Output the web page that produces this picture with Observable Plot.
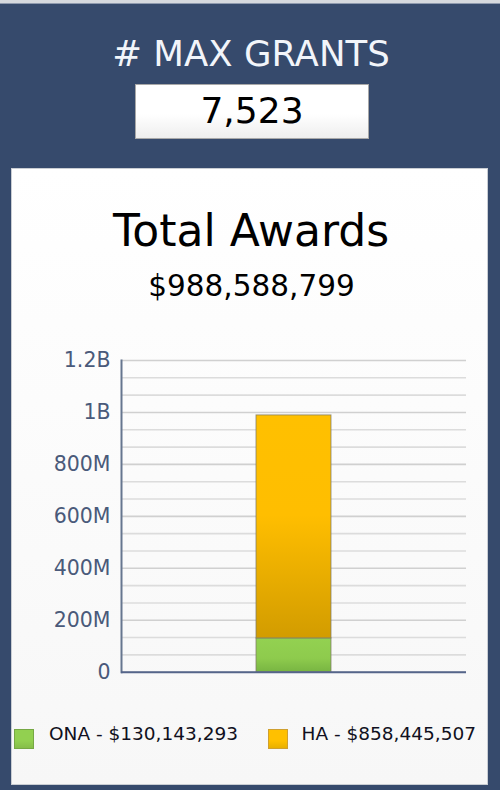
<!DOCTYPE html>
<html>
<head>
<meta charset="utf-8">
<script src="https://cdn.jsdelivr.net/npm/d3@7"></script>
<script src="https://cdn.jsdelivr.net/npm/@observablehq/plot@0.6"></script>
<style>
  html, body { margin: 0; padding: 0; width: 500px; height: 790px; overflow: hidden; }
  body { background: #364a6c; font-family: "DejaVu Sans", Verdana, sans-serif; position: relative; }
  .abs { position: absolute; white-space: nowrap; }
  #topstrip { left: 0; top: 0; width: 500px; height: 3px; background: #d6d9de; }
  #topline { left: 0; top: 3px; width: 500px; height: 1px; background: #8f9aae; }
  #title { left: 0; width: 502px; text-align: center; top: 35.7px; font-size: 35.5px; line-height: 35.5px; color: #f2f5fa; }
  #box { left: 135px; top: 84px; width: 232px; height: 53px; background: linear-gradient(#ffffff 55%, #eeeeee); border: 1px solid #a8a8a8; }
  #count { left: 135px; width: 234px; text-align: center; top: 92.8px; font-size: 36px; line-height: 36px; color: #000; }
  #panel { left: 11px; top: 168px; width: 475px; height: 615px; background: linear-gradient(#ffffff, #f7f7f7); border: 1px solid #c9cdd3; }
  #ctitle { left: 0; width: 502px; text-align: center; top: 208.5px; font-size: 44px; line-height: 44px; color: #000; }
  #ctotal { left: 0; width: 503px; text-align: center; top: 271.7px; font-size: 29.5px; line-height: 29.5px; color: #000; }
  #chart { left: 11px; top: 330px; }
  .sw { width: 18px; height: 18px; }
  .lt { font-size: 18.5px; line-height: 18.5px; color: #101020; top: 725px; }
</style>
</head>
<body>
<script>
// ---- data ----
const headerLabel = "# MAX GRANTS";
const maxGrants = 7523;
const chartTitle = "Total Awards";
const totalAwards = 988588799;
const category = ["Total"];
const series = ["ONA", "HA"];
const values = [130143293, 858445507];
const seriesFill = ["url(#gONA)", "url(#gHA)"];
const swatchColors = ["#92d050", "#ffc000"];
const swatchBorders = ["#76a844", "#cfa030"];
const tickValues = [0, 2e8, 4e8, 6e8, 8e8, 1e9, 1.2e9];
const tickLabels = ["0", "200M", "400M", "600M", "800M", "1B", "1.2B"];
const yMax = 1.2e9;
const gridStep = 2e8 / 3;

const fmt = d3.format(",");
const data = series.map((s, i) => ({cat: category[0], series: s, value: values[i]}));

function el(id, text) {
  const d = document.createElement("div");
  d.className = "abs"; d.id = id;
  if (text != null) d.textContent = text;
  document.body.appendChild(d);
  return d;
}
el("topstrip"); el("topline");
el("title", headerLabel);
el("box");
el("count", fmt(maxGrants));
el("panel");
el("ctitle", chartTitle);
el("ctotal", "$" + fmt(totalAwards));

const gridVals = d3.range(0, yMax + 1, gridStep);

const chart = Plot.plot({
  width: 477,
  height: 360,
  marginLeft: 110,
  marginRight: 22,
  marginTop: 30,
  marginBottom: 18.3,
  style: {background: "transparent", fontFamily: "'DejaVu Sans', Verdana, sans-serif", overflow: "visible"},
  x: {domain: category, padding: 0.6429, round: false, axis: null},
  y: {domain: [0, yMax], axis: null, label: null},
  color: {domain: series, range: seriesFill},
  marks: [
    Plot.ruleY(gridVals, {stroke: d => (Math.round(d / gridStep) % 3 === 0 ? "#d0d0d0" : "#dcdcdc"), strokeWidth: 1.6}),
    Plot.barY(data, Plot.stackY({x: "cat", y: "value", fill: "series", stroke: "#7d7a66", strokeOpacity: 0.75, strokeWidth: 1})),
    Plot.axisY({ticks: tickValues, tickFormat: d => tickLabels[tickValues.indexOf(d)], tickSize: 0, tickPadding: 11, fontSize: 20.5, fill: "#4a5a7a", label: null}),
    Plot.frame({anchor: "left", stroke: "#66768f", strokeWidth: 2}),
    Plot.ruleY([0], {stroke: "#55658a", strokeWidth: 2})
  ]
});

// gradients
const ns = "http://www.w3.org/2000/svg";
const defs = document.createElementNS(ns, "defs");
function grad(id, stops) {
  const g = document.createElementNS(ns, "linearGradient");
  g.setAttribute("id", id);
  g.setAttribute("x1", "0"); g.setAttribute("y1", "0");
  g.setAttribute("x2", "0"); g.setAttribute("y2", "1");
  for (const [o, c] of stops) {
    const s = document.createElementNS(ns, "stop");
    s.setAttribute("offset", o); s.setAttribute("stop-color", c);
    g.appendChild(s);
  }
  defs.appendChild(g);
}
grad("gHA", [[0, "#ffc000"], [0.45, "#ffbe00"], [1, "#d29c00"]]);
grad("gONA", [[0, "#93d151"], [0.6, "#8ecb4d"], [1, "#78b542"]]);
chart.insertBefore(defs, chart.firstChild);

const wrap = el("chart");
wrap.appendChild(chart);

// legend
const legendX = [[14, 49], [268, 301.5]];
series.forEach((s, i) => {
  const sw = el("sw" + i);
  sw.className = "abs sw";
  sw.style.left = legendX[i][0] + "px";
  sw.style.top = "728.5px";
  sw.style.background = `linear-gradient(${swatchColors[i]} 60%, ${d3.color(swatchColors[i]).darker(0.25)})`;
  sw.style.border = "1px solid " + swatchBorders[i];
  const t = el("lt" + i, s + " - $" + fmt(values[i]));
  t.className = "abs lt";
  t.style.left = legendX[i][1] + "px";
});
</script>
</body>
</html>
